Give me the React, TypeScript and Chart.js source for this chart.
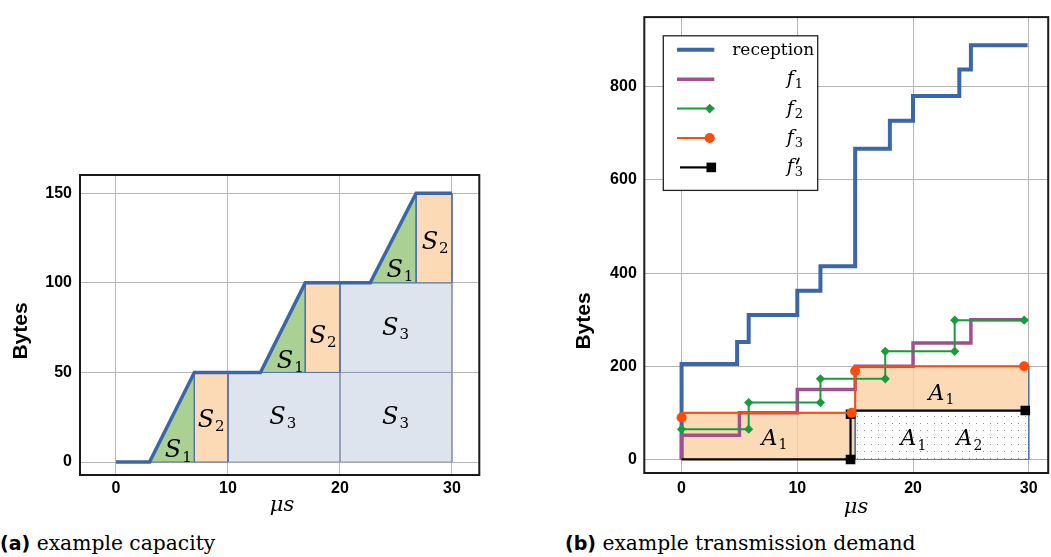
import React, { useEffect, useRef } from 'react';
import { Chart, registerables } from 'chart.js';

Chart.register(...registerables);

const SERIF = '"DejaVu Serif", serif';
const SANS = '"Liberation Sans", Arial, sans-serif';

const BLUE = '#3b67aa';
const PURPLE = '#a0508c';
const GREEN = '#169c3a';
const ORANGE = '#ff4a0a';
const BLACK = '#000000';
const EDGE = '#4f73ad';
const EDGE_GREY = '#8d9cb5';
const FILL_GREEN = 'rgba(150,196,121,0.8)';
const FILL_ORANGE = 'rgba(252,209,164,0.8)';
const FILL_S3 = 'rgba(212,221,234,0.8)';
const GRID = '#b5b5b5';

// ---------- (a) example capacity ----------
const capTimes = [0, 3, 7, 12.9, 16.9, 22.7, 26.8, 30];
const capBytes = [0, 0, 50, 50, 100, 100, 150, 150];
const s1Start = [3, 12.9, 22.7];
const s1End = [7, 16.9, 26.8];
const levelLow = [0, 50, 100];
const levelHigh = [50, 100, 150];
const s2End = [10, 20, 30];
const s3X0 = [10, 20, 20];
const s3X1 = [20, 30, 30];
const s3Y0 = [0, 0, 50];
const s3Y1 = [50, 50, 100];
const capLabelBase = ['S', 'S', 'S', 'S', 'S', 'S', 'S', 'S', 'S'];
const capLabelSub = ['1', '2', '3', '3', '3', '1', '2', '1', '2'];
const capLabelX = [5.56, 8.5, 14.9, 24.96, 24.96, 15.56, 18.5, 25.35, 28.5];
const capLabelY = [7.6, 24.4, 26.2, 26.2, 75.9, 57.3, 71.3, 108.1, 123.9];
const capXTicks = [0, 10, 20, 30];
const capYTicks = [0, 50, 100, 150];

// ---------- (b) example transmission demand ----------
const recvTimes = [0, 0, 4.8, 5.8, 10, 12, 15, 18, 20, 24, 25, 29.9];
const recvBytes = [0, 205, 252, 310, 362, 415, 667, 727, 780, 837, 889, 889];
const f1Times = [0, 0, 5, 10, 15, 20, 25, 29.9];
const f1Bytes = [0, 52, 100, 150, 200, 250, 300, 300];
const f2Times = [0, 5.8, 5.8, 12, 12, 17.6, 17.6, 23.6, 23.6, 29.6];
const f2Bytes = [65, 65, 122, 122, 173, 173, 232, 232, 299, 299];
const f3Times = [0, 0, 14.7, 15, 15, 15, 29.6];
const f3Bytes = [90, 100, 100, 100, 190, 200, 200];
const f3Marks = [1, 0, 1, 0, 1, 0, 1];
const f3pTimes = [0, 14.6, 14.6, 15, 29.7];
const f3pBytes = [0, 0, 97, 105, 105];
const f3pMarks = [0, 1, 1, 0, 1];
const a1X0 = [0, 15];
const a1X1 = [15, 30];
const a1Y0 = [0, 105];
const a1Y1 = [100, 200];
const a2Rect = [15, 30, 0, 105];
const demLabelBase = ['A', 'A', 'A', 'A'];
const demLabelSub = ['1', '1', '1', '2'];
const demLabelX = [8.03, 22.46, 20.04, 24.88];
const demLabelY = [48.3, 145, 47, 47];
const demXTicks = [0, 10, 20, 30];
const demYTicks = [0, 200, 400, 600, 800];
const legendBase = ['reception', 'f', 'f', 'f', 'f'];
const legendSub = ['', '1', '2', '3', '3'];
const legendPrime = [false, false, false, false, true];

// ---------- helpers ----------
const xy = (xs: number[], ys: number[]) => xs.map((x, i) => ({ x, y: ys[i] }));
const rect = (x0: number, x1: number, y0: number, y1: number) => [
  { x: x0, y: y0 }, { x: x0, y: y1 }, { x: x1, y: y1 }, { x: x1, y: y0 }, { x: x0, y: y0 },
];
const poly = (data: any[], bg: any, border: string) => ({
  data, fill: 'shape', backgroundColor: bg, borderColor: border, borderWidth: 1,
  pointRadius: 0, tension: 0, borderJoinStyle: 'miter',
});

function drawMath(ctx: CanvasRenderingContext2D, base: string, sub: string, prime: boolean,
  x: number, baseline: number, size: number, subSize: number, align: string, italic = true) {
  ctx.save();
  const bf = `${italic ? 'italic ' : ''}${size}px ${SERIF}`;
  const sf = `${subSize}px ${SERIF}`;
  ctx.font = bf;
  const wb = ctx.measureText(base).width;
  ctx.font = sf;
  const ws = sub ? ctx.measureText(sub).width + 1 : 0;
  const total = wb + ws;
  let sx = x;
  if (align === 'center') sx = x - total / 2;
  else if (align === 'right') sx = x - total;
  ctx.fillStyle = '#000';
  ctx.textAlign = 'left';
  ctx.textBaseline = 'alphabetic';
  ctx.font = bf;
  ctx.fillText(base, sx, baseline);
  if (prime) {
    const px = sx + wb + 3;
    ctx.strokeStyle = '#000';
    ctx.lineWidth = 1.6;
    ctx.lineCap = 'round';
    ctx.beginPath();
    ctx.moveTo(px + 2.2, baseline - size * 0.74);
    ctx.lineTo(px, baseline - size * 0.46);
    ctx.stroke();
  }
  if (sub) {
    ctx.font = sf;
    ctx.fillText(sub, sx + wb + 1, baseline + subSize * 0.3);
  }
  ctx.restore();
}

const framePlugin = {
  id: 'frame',
  afterDatasetsDraw(chart: any) {
    const { ctx, chartArea: a } = chart;
    ctx.save();
    ctx.strokeStyle = '#1a1a1a';
    ctx.lineWidth = 2;
    ctx.strokeRect(a.left, a.top, a.right - a.left, a.bottom - a.top);
    ctx.restore();
  },
};

const labelsPlugin = (bases: string[], subs: string[], xs: number[], ys: number[], size: number, subSize: number) => ({
  id: 'mathLabels',
  afterDatasetsDraw(chart: any) {
    const { ctx, scales } = chart;
    bases.forEach((b, i) => {
      const px = scales.x.getPixelForValue(xs[i]);
      const py = scales.y.getPixelForValue(ys[i]);
      drawMath(ctx, b, subs[i], false, px, py + size * 0.36, size, subSize, 'center');
    });
  },
});

const axisTitlesPlugin = (bx: number, by: number, mx: number, my: number) => ({
  id: 'axisTitles',
  afterDraw(chart: any) {
    const { ctx } = chart;
    ctx.save();
    ctx.fillStyle = '#000';
    ctx.textAlign = 'center';
    ctx.textBaseline = 'middle';
    ctx.font = `bold 21px ${SANS}`;
    ctx.translate(bx, by);
    ctx.rotate(-Math.PI / 2);
    ctx.fillText('Bytes', 0, 0);
    ctx.restore();
    ctx.save();
    ctx.fillStyle = '#000';
    ctx.textAlign = 'center';
    ctx.textBaseline = 'middle';
    ctx.font = `italic 21px ${SERIF}`;
    ctx.fillText('\u03bcs', mx, my);
    ctx.restore();
  },
});

const legendPlugin = {
  id: 'mathLegend',
  afterDraw(chart: any) {
    const { ctx, chartArea } = chart;
    const bx = chartArea.left + 19;
    const by = chartArea.top + 18.7;
    const bw = 154.4;
    const bh = 154.6;
    ctx.save();
    ctx.fillStyle = '#fff';
    ctx.fillRect(bx, by, bw, bh);
    ctx.strokeStyle = '#222';
    ctx.lineWidth = 1.3;
    ctx.strokeRect(bx, by, bw, bh);
    const dsIndex = [4, 3, 2, 0, 1];
    legendBase.forEach((name, i) => {
      const ds = chart.data.datasets[dsIndex[i]];
      const y = by + 14 + i * 29.4;
      const x0 = bx + (i === 4 ? 16.7 : 13.7);
      const x1 = bx + 51;
      ctx.strokeStyle = ds.borderColor;
      ctx.lineWidth = ds.borderWidth;
      ctx.lineCap = 'butt';
      ctx.beginPath();
      ctx.moveTo(x0, y);
      ctx.lineTo(i === 4 ? bx + 46 : x1, y);
      ctx.stroke();
      ctx.fillStyle = ds.borderColor;
      if (i === 2) {
        const cx = bx + 46.4, r = 4.8;
        ctx.beginPath();
        ctx.moveTo(cx - r, y); ctx.lineTo(cx, y - r); ctx.lineTo(cx + r, y); ctx.lineTo(cx, y + r);
        ctx.closePath(); ctx.fill();
      } else if (i === 3) {
        ctx.beginPath(); ctx.arc(bx + 46.4, y, 5, 0, Math.PI * 2); ctx.fill();
      } else if (i === 4) {
        ctx.fillRect(bx + 48 - 4.8, y - 4.8, 9.6, 9.6);
      }
      if (i === 0) {
        drawMath(ctx, name, '', false, bx + 151, y + 5, 17, 13, 'right', false);
      } else {
        drawMath(ctx, name, legendSub[i], legendPrime[i], bx + 123.4, y + 5, 19, 13, 'left', true);
      }
    });
    ctx.restore();
  },
};

function xScale(min: number, max: number, ticks: number[], height: number, pad: number) {
  return {
    type: 'linear', min, max,
    afterBuildTicks: (s: any) => { s.ticks = ticks.map((v) => ({ value: v })); },
    afterFit: (s: any) => { s.height = height; },
    grid: { color: GRID, lineWidth: 1, drawTicks: false },
    border: { display: false },
    ticks: { color: '#000', padding: pad, maxRotation: 0, font: { family: SANS, weight: 'bold', size: 16 } },
  };
}
function yScale(min: number, max: number, ticks: number[], width: number, pad: number) {
  return {
    type: 'linear', min, max,
    afterBuildTicks: (s: any) => { s.ticks = ticks.map((v) => ({ value: v })); },
    afterFit: (s: any) => { s.width = width; },
    grid: { color: GRID, lineWidth: 1, drawTicks: false },
    border: { display: false },
    ticks: { color: '#000', padding: pad, font: { family: SANS, weight: 'bold', size: 16 } },
  };
}

const baseOptions = {
  animation: false, responsive: false, devicePixelRatio: 1, events: [],
  plugins: { legend: { display: false }, tooltip: { enabled: false } },
};

function capacityConfig(): any {
  const datasets: any[] = [
    { data: xy(capTimes, capBytes), borderColor: BLUE, borderWidth: 3.5, pointRadius: 0, fill: false, borderJoinStyle: 'miter', tension: 0 },
  ];
  s1Start.forEach((s, i) => {
    datasets.push(poly([{ x: s, y: levelLow[i] }, { x: s1End[i], y: levelHigh[i] }, { x: s1End[i], y: levelLow[i] }, { x: s, y: levelLow[i] }], FILL_GREEN, EDGE));
  });
  s1End.forEach((e, i) => {
    datasets.push(poly(rect(e, s2End[i], levelLow[i], levelHigh[i]), FILL_ORANGE, EDGE));
  });
  s3X0.forEach((x0, i) => {
    datasets.push(poly(rect(x0, s3X1[i], s3Y0[i], s3Y1[i]), FILL_S3, EDGE_GREY));
  });
  return {
    type: 'line',
    data: { datasets },
    options: {
      ...baseOptions,
      layout: { padding: { top: 175, right: 20.7, left: 0, bottom: 0 } },
      scales: { x: xScale(-3.21, 32.44, capXTicks, 55, 4.4), y: yScale(-7.25, 160.2, capYTicks, 80, 8) },
    },
    plugins: [framePlugin, labelsPlugin(capLabelBase, capLabelSub, capLabelX, capLabelY, 24, 15), axisTitlesPlugin(21.5, 331, 282, 506)],
  };
}

function demandConfig(dots: any): any {
  const datasets: any[] = [
    { label: 'f3', data: xy(f3Times, f3Bytes), borderColor: ORANGE, borderWidth: 2, tension: 0, fill: false,
      pointStyle: 'circle', pointRadius: f3Marks.map((m) => (m ? 5 : 0)), pointBackgroundColor: ORANGE, pointBorderColor: ORANGE, pointBorderWidth: 0, borderJoinStyle: 'miter' },
    { label: "f3'", data: xy(f3pTimes, f3pBytes), borderColor: BLACK, borderWidth: 2.2, tension: 0, fill: false,
      pointStyle: 'rect', pointRadius: f3pMarks.map((m) => (m ? 6.8 : 0)), pointBackgroundColor: BLACK, pointBorderColor: BLACK, pointBorderWidth: 0, borderJoinStyle: 'miter' },
    { label: 'f2', data: xy(f2Times, f2Bytes), borderColor: GREEN, borderWidth: 2, tension: 0, fill: false,
      pointStyle: 'rectRot', pointRadius: 4.6, pointBackgroundColor: GREEN, pointBorderColor: GREEN, pointBorderWidth: 0, borderJoinStyle: 'miter' },
    { label: 'f1', data: xy(f1Times, f1Bytes), borderColor: PURPLE, borderWidth: 3.5, tension: 0, fill: false,
      stepped: 'before', pointRadius: 0, borderJoinStyle: 'miter' },
    { label: 'reception', data: xy(recvTimes, recvBytes), borderColor: BLUE, borderWidth: 4, tension: 0, fill: false,
      stepped: 'before', pointRadius: 0, borderJoinStyle: 'miter' },
  ];
  a1X0.forEach((x0, i) => {
    datasets.push(poly(rect(x0, a1X1[i], a1Y0[i], a1Y1[i]), FILL_ORANGE, EDGE));
  });
  datasets.push(poly(rect(a2Rect[0], a2Rect[1], a2Rect[2], a2Rect[3]), dots, EDGE));
  return {
    type: 'line',
    data: { datasets },
    options: {
      ...baseOptions,
      layout: { padding: { top: 14, right: 2, left: 0, bottom: 0 } },
      scales: { x: xScale(-3.22, 31.68, demXTicks, 57, 5.7), y: yScale(-29.1, 949.6, demYTicks, 84.3, 7.5) },
    },
    plugins: [framePlugin, labelsPlugin(demLabelBase, demLabelSub, demLabelX, demLabelY, 22, 14), legendPlugin, axisTitlesPlugin(24, 321, 296, 508)],
  };
}

function CapacityChart() {
  const ref = useRef<HTMLCanvasElement>(null);
  useEffect(() => {
    const chart = new Chart(ref.current as HTMLCanvasElement, capacityConfig());
    return () => chart.destroy();
  }, []);
  return <canvas ref={ref} width={500} height={530} style={{ position: 'absolute', left: 0, top: 0, width: 500, height: 530 }} />;
}

function DemandChart() {
  const ref = useRef<HTMLCanvasElement>(null);
  useEffect(() => {
    const canvas = ref.current as HTMLCanvasElement;
    const pc = document.createElement('canvas');
    pc.width = 7;
    pc.height = 7;
    const pctx = pc.getContext('2d') as CanvasRenderingContext2D;
    pctx.fillStyle = '#ffffff';
    pctx.fillRect(0, 0, 7, 7);
    pctx.fillStyle = '#8a8a8a';
    pctx.fillRect(3, 3, 1, 1);
    const dots = (canvas.getContext('2d') as CanvasRenderingContext2D).createPattern(pc, 'repeat');
    const chart = new Chart(canvas, demandConfig(dots));
    return () => chart.destroy();
  }, []);
  return <canvas ref={ref} width={495} height={530} style={{ position: 'absolute', left: 560, top: 0, width: 495, height: 530 }} />;
}

export default function App() {
  const cap: React.CSSProperties = {
    position: 'absolute', top: 532, fontFamily: SERIF, fontSize: 20.3, lineHeight: '23px', color: '#000', whiteSpace: 'nowrap',
  };
  const lab: React.CSSProperties = { fontFamily: '"DejaVu Sans", sans-serif', fontWeight: 'bold', fontSize: 19 };
  return (
    <div style={{ position: 'fixed', left: 0, top: 0, width: 1051, height: 557, overflow: 'hidden', background: '#fff' }}>
      <CapacityChart />
      <DemandChart />
      <div style={{ ...cap, left: 0 }}><span style={lab}>(a)</span> example capacity</div>
      <div style={{ ...cap, left: 565 }}><span style={lab}>(b)</span> example transmission demand</div>
    </div>
  );
}
